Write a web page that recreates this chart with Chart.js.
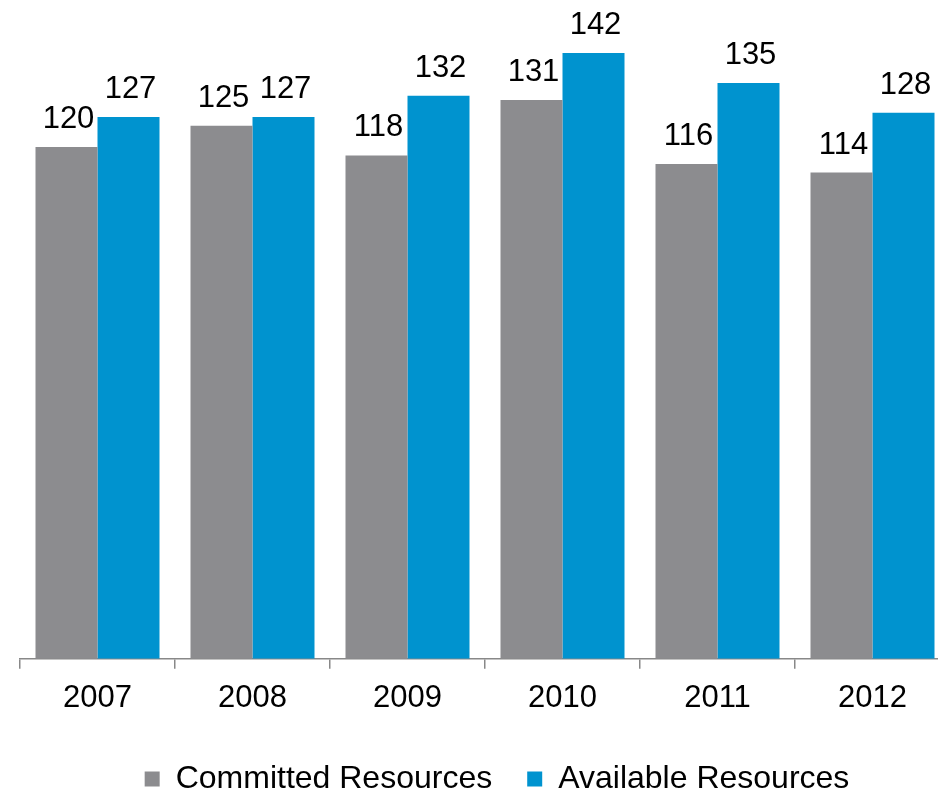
<!DOCTYPE html>
<html lang="en">
<head>
    <meta charset="UTF-8">
    <title>Committed vs Available Resources</title>
    <script src="https://cdn.jsdelivr.net/npm/chart.js"></script>
    <style>
        html, body {
            margin: 0;
            padding: 0;
            background: #ffffff;
            overflow: hidden;
        }
        .chartBox {
            width: 1000px;
            height: 805px;
        }
    </style>
</head>
<body>
    <div class="chartBox">
        <canvas id="barChart" width="1000" height="805"></canvas>
    </div>
    <script>
        // Chart data
        var years = ['2007', '2008', '2009', '2010', '2011', '2012'];
        var committedResources = [120, 125, 118, 131, 116, 114];
        var availableResources = [127, 127, 132, 142, 135, 128];

        var fontFamily = '"Liberation Sans", Arial, Helvetica, sans-serif';

        // Draw the value above every bar
        var barValues = {
            id: 'barValues',
            afterDatasetsDraw: function (chart) {
                var ctx = chart.ctx;
                ctx.save();
                ctx.font = '31px ' + fontFamily;
                ctx.fillStyle = '#000000';
                ctx.textAlign = 'center';
                ctx.textBaseline = 'alphabetic';
                chart.data.datasets.forEach(function (ds, i) {
                    chart.getDatasetMeta(i).data.forEach(function (bar, j) {
                        ctx.fillText(ds.data[j], bar.x + 2, bar.y - 19);
                    });
                });
                ctx.restore();
            }
        };

        // Nudge the legend a bit to the right, like the original
        var legendShift = {
            id: 'legendShift',
            afterLayout: function (chart) {
                if (chart.legend) {
                    chart.legend.left += 12;
                    chart.legend.right += 12;
                }
            }
        };

        var ctx = document.getElementById('barChart').getContext('2d');
        var chart = new Chart(ctx, {
            type: 'bar',
            data: {
                labels: years,
                datasets: [{
                    label: 'Committed Resources',
                    data: committedResources,
                    backgroundColor: '#8c8c8f'
                }, {
                    label: 'Available Resources',
                    data: availableResources,
                    backgroundColor: '#0093cf'
                }]
            },
            options: {
                responsive: false,
                animation: false,
                categoryPercentage: 0.8,
                barPercentage: 1.0,
                layout: {
                    padding: { left: 20, right: 50, top: 19, bottom: 0 }
                },
                plugins: {
                    tooltip: { enabled: false },
                    legend: {
                        position: 'bottom',
                        labels: {
                            color: '#000000',
                            font: { family: fontFamily, size: 32, lineHeight: 1.0 },
                            boxWidth: 15,
                            boxHeight: 15,
                            padding: 35
                        }
                    }
                },
                scales: {
                    x: {
                        grid: {
                            offset: true,
                            drawOnChartArea: false,
                            color: '#888888',
                            lineWidth: 1.5,
                            tickLength: 10
                        },
                        border: { color: '#888888', width: 1.5 },
                        ticks: {
                            color: '#000000',
                            font: { family: fontFamily, size: 31 },
                            padding: 11
                        }
                    },
                    y: {
                        display: false,
                        min: 0,
                        max: 150
                    }
                }
            },
            plugins: [barValues, legendShift]
        });
    </script>
</body>
</html>
